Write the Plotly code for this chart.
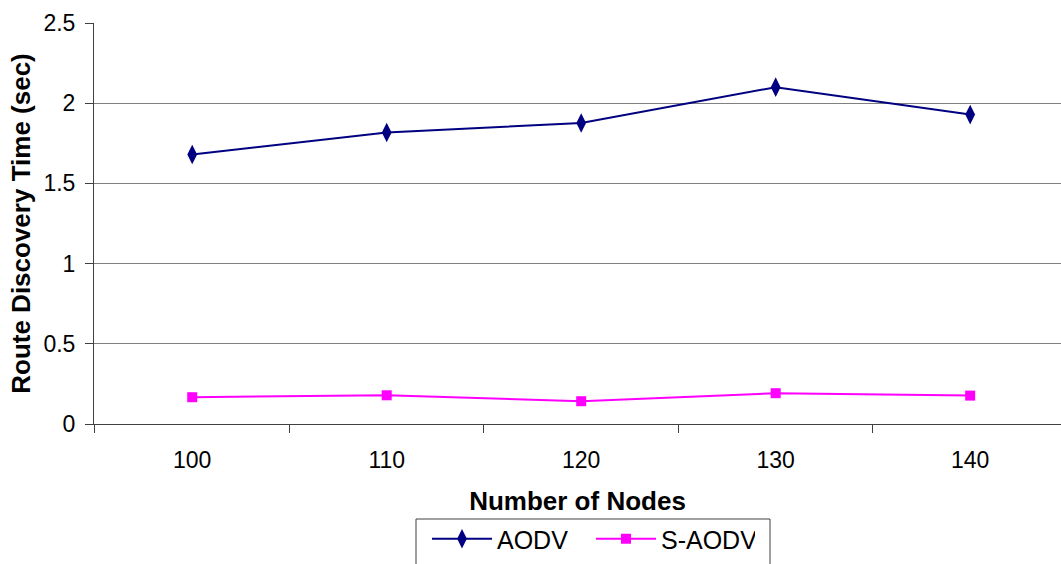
import plotly.graph_objs as go

# chart data
nodes = [100, 110, 120, 130, 140]
aodv = [1.68, 1.817, 1.877, 2.10, 1.929]
s_aodv = [0.167, 0.179, 0.142, 0.192, 0.177]
tick_labels = ['100', '110', '120', '130', '140']
y_ticks = [0, 0.5, 1, 1.5, 2, 2.5]
y_labels = ['0', '0.5', '1', '1.5', '2', '2.5']

font_name = 'Liberation Sans, Arial, sans-serif'

# plot area in pixels, used to place the legend frame
plot_l, plot_w, plot_t, plot_h = 94, 967, 23, 401

trace0 = go.Scatter(x=nodes, y=aodv, name='AODV', mode='lines+markers',
                    line=dict(color='#000080', width=2),
                    marker=dict(symbol='diamond-tall', size=14, color='#000080'))
trace1 = go.Scatter(x=nodes, y=s_aodv, name='S-AODV', mode='lines+markers',
                    line=dict(color='#FF00FF', width=2),
                    marker=dict(symbol='square', size=10, color='#FF00FF'))

def px_x(p):
    return (p - plot_l) / plot_w

def px_y(p):
    return (plot_t + plot_h - p) / plot_h

layout = dict(
    width=1061, height=564,
    margin=dict(l=plot_l, r=0, t=plot_t, b=564 - plot_t - plot_h, autoexpand=False),
    paper_bgcolor='white', plot_bgcolor='white',
    font=dict(family=font_name, size=23, color='black'),
    showlegend=True,
    xaxis=dict(range=[94.95, 144.67], tickvals=nodes, ticktext=tick_labels,
               ticks='outside', ticklen=8, tickcolor='rgba(0,0,0,0)',
               minor=dict(ticks='outside', tick0=95, dtick=10, ticklen=8,
                          tickcolor='#404040', tickwidth=1),
               showline=True, linecolor='#404040', linewidth=1,
               showgrid=False, zeroline=False, automargin=False,
               tickfont=dict(size=23), ticklabelstandoff=7,
               title=dict(text='<b>Number of Nodes</b>', font=dict(size=26), standoff=20)),
    yaxis=dict(range=[0, 2.5], tickvals=y_ticks, ticktext=y_labels,
               ticks='outside', ticklen=8, tickcolor='#404040',
               showline=True, linecolor='#404040', linewidth=1,
               showgrid=True, gridcolor='#808080', gridwidth=1, zeroline=False,
               automargin=False, tickfont=dict(size=23), ticklabelstandoff=5,
               title=dict(text='<b>Route Discovery Time (sec)</b>', font=dict(size=26), standoff=5)),
    legend=dict(orientation='h', xref='container', yref='container',
                x=427 / 1061, xanchor='left', y=1 - 516 / 564, yanchor='top',
                borderwidth=0, bgcolor='rgba(0,0,0,0)',
                itemwidth=60, entrywidth=89, font=dict(size=25)),
    shapes=[dict(type='rect', xref='paper', yref='paper',
                 x0=px_x(416), x1=px_x(770), y0=px_y(580), y1=px_y(519),
                 line=dict(color='#404040', width=1), fillcolor='white', layer='below')],
)

fig = go.Figure(data=[trace0, trace1], layout=layout)
# drop the browser's default page margin so the chart sits at the window corner
fig.write_html("out.html", config=dict(displayModeBar=False),
               post_script="document.body.style.margin='0';")
